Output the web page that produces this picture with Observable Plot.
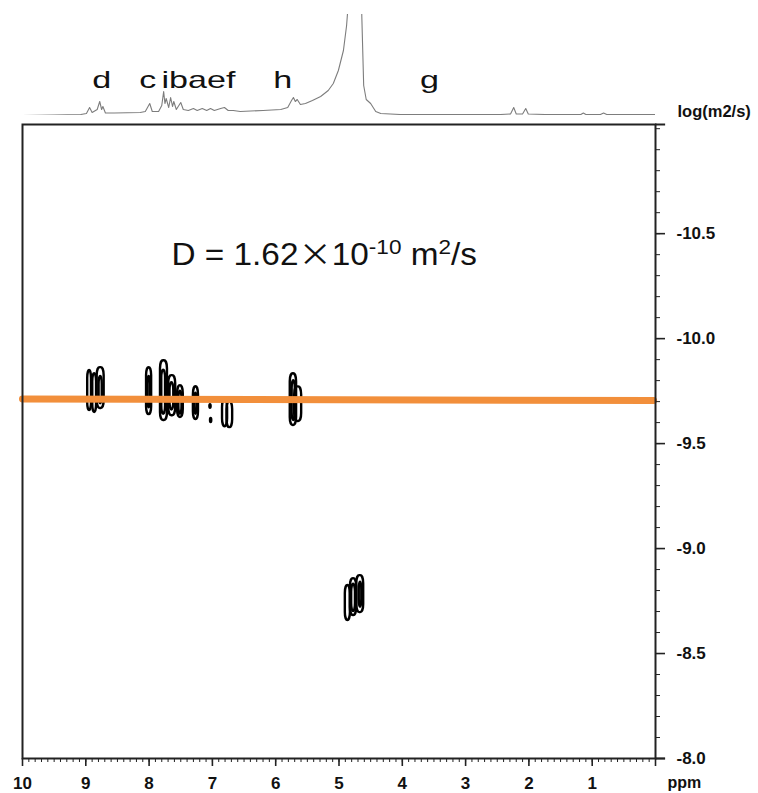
<!DOCTYPE html>
<html>
<head>
<meta charset="utf-8">
<script src="https://cdn.jsdelivr.net/npm/d3@7"></script>
<script src="https://cdn.jsdelivr.net/npm/@observablehq/plot@0.6"></script>
<style>
  body { margin: 0; background: #fff; }
  #chart { width: 758px; }
</style>
</head>
<body>
<div id="chart"></div>
<script>
// ---------- DATA ----------
// 1D proton spectrum trace (ppm, relative intensity) read from the top projection
const spectrumPpm = [10.00, 9.50, 9.08, 8.99, 8.94, 8.90, 8.82, 8.78, 8.75, 8.73, 8.69, 8.55,
  8.14, 8.06, 7.99, 7.95, 7.85, 7.80, 7.77, 7.75, 7.73, 7.69, 7.66, 7.63, 7.61, 7.57, 7.50, 7.46,
  7.38, 7.30, 7.24, 7.16, 7.09, 7.03, 6.97, 6.87, 6.81, 6.75, 6.67, 6.56, 6.20, 5.92, 5.81, 5.75,
  5.72, 5.69, 5.66, 5.61, 5.53, 5.42, 5.29, 5.17, 5.09, 5.01, 4.93, 4.88, 4.85, 4.82, 4.76, 4.69,
  4.66, 4.64, 4.61, 4.57, 4.50, 4.42, 4.34, 4.03, 2.45, 2.29, 2.24, 2.20, 2.10, 2.05, 2.01, 1.74,
  1.18, 1.14, 1.10, 0.87, 0.82, 0.77, 0.00];
const spectrumIntensity = [0, 0.5, 1, 2, 8, 3, 6, 14, 6, 9, 2.5, 2.5,
  3, 4, 12, 4, 4, 10, 24, 12, 17, 8, 18, 9, 14, 6, 13, 6,
  5, 7, 5, 7, 5, 7, 5, 7, 8, 5, 5, 4, 5, 6, 8, 15,
  18, 14, 16, 11, 12, 15, 19, 25, 32, 45, 65, 90, 115, 200, 400, 400,
  200, 100, 30, 16, 12, 4, 2, 1, 1, 1.5, 8, 1.5, 1.5, 7, 1.5, 1,
  1, 2.5, 1, 1, 2.5, 1, 1];

// peak assignment labels above the spectrum
const peakLabels = ["d", "c", "ibaef", "h", "g"];
const peakLabelPpm = [8.75, 8.02, 7.22, 5.89, 3.57];

// DOSY contour loops: ppm range and log(D) range of each loop
const contourPpmLeft  = [8.97, 8.89, 8.82, 8.79, 8.04, 8.02, 7.82, 7.80, 7.69, 7.67, 7.55, 7.53,
  7.30, 7.28, 7.04, 7.03, 6.84, 6.77, 5.77, 5.70, 5.74, 4.90, 4.82, 4.72, 4.80, 4.68];
const contourPpmRight = [8.91, 8.83, 8.71, 8.74, 7.96, 7.98, 7.71, 7.74, 7.58, 7.61, 7.46, 7.48,
  7.22, 7.24, 7.02, 7.01, 6.76, 6.68, 5.67, 5.59, 5.69, 4.82, 4.72, 4.61, 4.74, 4.64];
const contourLogTop    = [-9.848, -9.833, -9.862, -9.82, -9.862, -9.82, -9.895, -9.85, -9.824, -9.79, -9.776, -9.75,
  -9.771, -9.74, -9.685, -9.62, -9.71, -9.70, -9.833, -9.77, -9.80, -8.824, -8.857, -8.871, -8.83, -8.84];
const contourLogBottom = [-9.657, -9.648, -9.667, -9.69, -9.638, -9.67, -9.610, -9.64, -9.633, -9.66, -9.624, -9.64,
  -9.614, -9.64, -9.668, -9.60, -9.58, -9.576, -9.586, -9.605, -9.61, -8.657, -8.681, -8.695, -8.70, -8.72];

// fitted diffusion line (log D) across the spectrum
const fitPpm = [10, 0.03];
const fitLogD = [-9.713, -9.705];

// axis ticks
const xMajorTicks = [10, 9, 8, 7, 6, 5, 4, 3, 2, 1, 0];
const xMinorTicks = d3.range(0, 101).map(i => i / 10);
const yMajorTicks = [-10.5, -10.0, -9.5, -9.0, -8.5, -8.0];
const yMinorTicks = d3.range(-110, -79).map(i => i / 10);

const diffusionLabel = "D = 1.62×10-10 m2/s";
const yAxisTitle = "log(m2/s)";
const xAxisTitle = "ppm";

// ---------- BUILD ----------
const FONT = "'Liberation Sans', Arial, Helvetica, sans-serif";
const INK = "#222";
const yTop = -11.02, yBottom = -8.0;

const spectrum = spectrumPpm.map((p, i) => ({ppm: p, intensity: spectrumIntensity[i]}));
const labels = peakLabels.map((t, i) => ({label: t, ppm: peakLabelPpm[i]}));
const loops = contourPpmLeft.map((p, i) => ({
  a: p, b: contourPpmRight[i], top: contourLogTop[i], bottom: contourLogBottom[i]
}));
const fit = fitPpm.map((p, i) => ({ppm: p, logD: fitLogD[i]}));

const topPlot = Plot.plot({
  width: 758, height: 120,
  marginLeft: 22, marginRight: 103, marginTop: 14, marginBottom: 5,
  x: {domain: [10, 0], axis: null},
  y: {domain: [0, 101], axis: null},
  style: {overflow: "visible", fontFamily: FONT, background: "transparent"},
  marks: [
    Plot.line(spectrum, {x: "ppm", y: "intensity", stroke: "#7d7d7d", strokeWidth: 1.1, clip: true}),
    Plot.text(labels, {x: "ppm", y: () => 28, text: "label", lineAnchor: "bottom",
      fontSize: 24, fill: "#111"}),
    Plot.text([yAxisTitle], {frameAnchor: "bottom-right", dx: 22, dy: -4, textAnchor: "start",
      lineAnchor: "middle", fontSize: 16.5, fontWeight: "bold", fill: "#111"})
  ]
});

const xOvershoot = -0.16;
const mainPlot = Plot.plot({
  width: 758, height: 673,
  marginLeft: 22, marginRight: 103, marginTop: 4, marginBottom: 35,
  x: {domain: [10, 0], label: null},
  y: {domain: [yTop, yBottom], reverse: true, label: null},
  style: {overflow: "visible", fontFamily: FONT, background: "transparent"},
  marks: [
    Plot.rect(loops, {x1: "a", x2: "b", y1: "top", y2: "bottom", rx: 3, ry: 8,
      fill: "none", stroke: "#000", strokeWidth: 2.4}),
    Plot.line(fit, {x: "ppm", y: "logD", stroke: "#f28f3b", strokeWidth: 7}),
    Plot.text([diffusionLabel], {x: 7.646, y: -10.352, lineAnchor: "bottom", textAnchor: "start",
      fontSize: 31, fill: "#111"}),
    Plot.frame({stroke: INK, strokeWidth: 2}),
    Plot.ruleY([yTop, yBottom], {x1: 0, x2: xOvershoot, stroke: INK, strokeWidth: 2}),
    Plot.axisX(xMinorTicks, {anchor: "bottom", tickSize: 4, tickFormat: () => "", label: null,
      stroke: INK, strokeWidth: 1}),
    Plot.axisX(xMajorTicks, {anchor: "bottom", tickSize: 8, tickPadding: 10, label: null,
      tickFormat: d => d === 0 ? "" : String(d), fontSize: 17, fontWeight: "bold",
      stroke: INK, fill: "#111", strokeWidth: 1.6}),
    Plot.axisY(yMinorTicks, {anchor: "right", tickSize: 4, tickFormat: () => "", label: null,
      stroke: INK, strokeWidth: 1}),
    Plot.axisY(yMajorTicks, {anchor: "right", tickSize: 9, tickPadding: 12, label: null,
      tickFormat: d => d.toFixed(1), fontSize: 17, fontWeight: "bold",
      stroke: INK, fill: "#111", strokeWidth: 1.6}),
    Plot.text([xAxisTitle], {frameAnchor: "bottom-right", dx: 12, dy: 24, textAnchor: "start",
      lineAnchor: "middle", fontSize: 16, fontWeight: "bold", fill: "#111"})
  ]
});

const chart = document.getElementById("chart");
chart.appendChild(topPlot);
chart.appendChild(mainPlot);

// stretch the hand-lettered peak labels horizontally (as in the source figure)
const labelStretch = 1.42;
d3.select(topPlot).selectAll("text").each(function () {
  if (peakLabels.includes(this.textContent)) {
    const w = this.getComputedTextLength();
    this.setAttribute("textLength", (w * labelStretch).toFixed(1));
    this.setAttribute("lengthAdjust", "spacingAndGlyphs");
  }
});

// rich text (superscripts) for the diffusion coefficient annotation
const NS = "http://www.w3.org/2000/svg";
const annotationStretch = 1.075;
d3.select(mainPlot).selectAll("text").each(function () {
  if (this.textContent !== diffusionLabel) return;
  this.textContent = "";
  const parts = [
    {t: "D = 1.62"},
    {t: "×", family: "'Noto Sans CJK SC', sans-serif"},
    {t: "10"},
    {t: "-10", sup: true},
    {t: " m"},
    {t: "2", sup: true},
    {t: "/s"}
  ];
  let raised = false;
  for (const p of parts) {
    const ts = document.createElementNS(NS, "tspan");
    ts.textContent = p.t;
    if (p.family) ts.setAttribute("font-family", p.family);
    if (p.sup) {
      ts.setAttribute("font-size", "21");
      if (!raised) { ts.setAttribute("dy", "-11"); raised = true; }
    } else if (raised) {
      ts.setAttribute("dy", "11"); raised = false;
    }
    this.appendChild(ts);
  }
  const w = this.getComputedTextLength();
  this.setAttribute("textLength", (w * annotationStretch).toFixed(1));
  this.setAttribute("lengthAdjust", "spacingAndGlyphs");
});
</script>
</body>
</html>
